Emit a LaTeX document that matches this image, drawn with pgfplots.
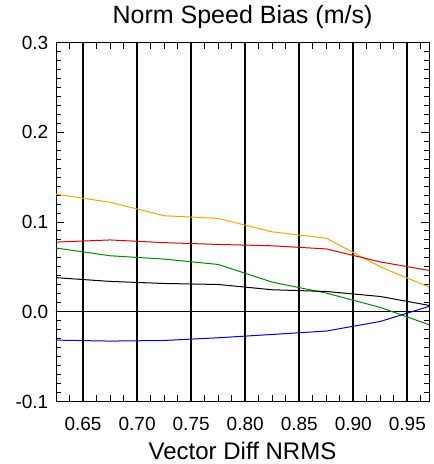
\documentclass[border=0pt]{standalone}
\usepackage{pgfplots}
\pgfplotsset{compat=1.18}
\usepackage{fontspec}
\setmainfont{Liberation Sans}
\definecolor{cOrange}{RGB}{255,165,0}
\definecolor{cRed}{RGB}{220,0,0}
\definecolor{cGreen}{RGB}{0,140,0}
\definecolor{cBlue}{RGB}{0,0,220}
\begin{document}
\begin{tikzpicture}
\useasboundingbox (-56pt,-62.5pt) rectangle (378pt,401.5pt);
\begin{axis}[
  scale only axis,
  width=373pt, height=359pt,
  xmin=0.625, xmax=0.97,
  ymin=-0.1, ymax=0.3,
  xtick={0.65,0.70,0.75,0.80,0.85,0.90,0.95},
  ytick={-0.1,0,0.1,0.2,0.3},
  major tick length=8pt,
  tick style={black, line width=1pt},
  unbounded coords=jump,
  /pgf/number format/assume math mode=true,
  xticklabel style={/pgf/number format/fixed, /pgf/number format/fixed zerofill, /pgf/number format/precision=2, font=\fontsize{19}{19}\selectfont, anchor=base, yshift=-28.5pt, inner sep=0pt},
  yticklabel style={/pgf/number format/fixed, /pgf/number format/fixed zerofill, /pgf/number format/precision=1, font=\fontsize{19}{19}\selectfont, anchor=east, inner sep=0pt, xshift=-7.5pt},
  title={Norm Speed Bias (m/s)},
  title style={font=\fontsize{25}{25}\selectfont, at={(0.5,1)}, anchor=base, yshift=13.5pt, inner sep=0pt},
  xlabel={Vector Diff NRMS},
  xlabel style={font=\fontsize{24}{24}\selectfont, at={(0.5,0)}, anchor=base, yshift=-58pt, inner sep=0pt},
]
% vertical major lines
\addplot[black, line width=1.8pt] coordinates {
(0.65,-0.1) (0.65,0.3) (0.65,nan)
(0.70,-0.1) (0.70,0.3) (0.70,nan)
(0.75,-0.1) (0.75,0.3) (0.75,nan)
(0.80,-0.1) (0.80,0.3) (0.80,nan)
(0.85,-0.1) (0.85,0.3) (0.85,nan)
(0.90,-0.1) (0.90,0.3) (0.90,nan)
(0.95,-0.1) (0.95,0.3)};
% y tick marks, left and right
\addplot[black, line width=1pt] coordinates {
(0.625,-0.09)(0.6296,-0.09)(0.625,nan) (0.625,-0.08)(0.6296,-0.08)(0.625,nan)
(0.625,-0.07)(0.6296,-0.07)(0.625,nan) (0.625,-0.06)(0.6296,-0.06)(0.625,nan)
(0.625,-0.05)(0.6296,-0.05)(0.625,nan) (0.625,-0.04)(0.6296,-0.04)(0.625,nan)
(0.625,-0.03)(0.6296,-0.03)(0.625,nan) (0.625,-0.02)(0.6296,-0.02)(0.625,nan)
(0.625,-0.01)(0.6296,-0.01)(0.625,nan) (0.625,0)(0.6324,0)(0.625,nan)
(0.625,0.01)(0.6296,0.01)(0.625,nan) (0.625,0.02)(0.6296,0.02)(0.625,nan)
(0.625,0.03)(0.6296,0.03)(0.625,nan) (0.625,0.04)(0.6296,0.04)(0.625,nan)
(0.625,0.05)(0.6296,0.05)(0.625,nan) (0.625,0.06)(0.6296,0.06)(0.625,nan)
(0.625,0.07)(0.6296,0.07)(0.625,nan) (0.625,0.08)(0.6296,0.08)(0.625,nan)
(0.625,0.09)(0.6296,0.09)(0.625,nan) (0.625,0.1)(0.6324,0.1)(0.625,nan)
(0.625,0.11)(0.6296,0.11)(0.625,nan) (0.625,0.12)(0.6296,0.12)(0.625,nan)
(0.625,0.13)(0.6296,0.13)(0.625,nan) (0.625,0.14)(0.6296,0.14)(0.625,nan)
(0.625,0.15)(0.6296,0.15)(0.625,nan) (0.625,0.16)(0.6296,0.16)(0.625,nan)
(0.625,0.17)(0.6296,0.17)(0.625,nan) (0.625,0.18)(0.6296,0.18)(0.625,nan)
(0.625,0.19)(0.6296,0.19)(0.625,nan) (0.625,0.2)(0.6324,0.2)(0.625,nan)
(0.625,0.21)(0.6296,0.21)(0.625,nan) (0.625,0.22)(0.6296,0.22)(0.625,nan)
(0.625,0.23)(0.6296,0.23)(0.625,nan) (0.625,0.24)(0.6296,0.24)(0.625,nan)
(0.625,0.25)(0.6296,0.25)(0.625,nan) (0.625,0.26)(0.6296,0.26)(0.625,nan)
(0.625,0.27)(0.6296,0.27)(0.625,nan) (0.625,0.28)(0.6296,0.28)(0.625,nan)
(0.625,0.29)(0.6296,0.29)(0.625,nan)
(0.97,-0.09)(0.9654,-0.09)(0.97,nan) (0.97,-0.08)(0.9654,-0.08)(0.97,nan)
(0.97,-0.07)(0.9654,-0.07)(0.97,nan) (0.97,-0.06)(0.9654,-0.06)(0.97,nan)
(0.97,-0.05)(0.9654,-0.05)(0.97,nan) (0.97,-0.04)(0.9654,-0.04)(0.97,nan)
(0.97,-0.03)(0.9654,-0.03)(0.97,nan) (0.97,-0.02)(0.9654,-0.02)(0.97,nan)
(0.97,-0.01)(0.9654,-0.01)(0.97,nan) (0.97,0)(0.9626,0)(0.97,nan)
(0.97,0.01)(0.9654,0.01)(0.97,nan) (0.97,0.02)(0.9654,0.02)(0.97,nan)
(0.97,0.03)(0.9654,0.03)(0.97,nan) (0.97,0.04)(0.9654,0.04)(0.97,nan)
(0.97,0.05)(0.9654,0.05)(0.97,nan) (0.97,0.06)(0.9654,0.06)(0.97,nan)
(0.97,0.07)(0.9654,0.07)(0.97,nan) (0.97,0.08)(0.9654,0.08)(0.97,nan)
(0.97,0.09)(0.9654,0.09)(0.97,nan) (0.97,0.1)(0.9626,0.1)(0.97,nan)
(0.97,0.11)(0.9654,0.11)(0.97,nan) (0.97,0.12)(0.9654,0.12)(0.97,nan)
(0.97,0.13)(0.9654,0.13)(0.97,nan) (0.97,0.14)(0.9654,0.14)(0.97,nan)
(0.97,0.15)(0.9654,0.15)(0.97,nan) (0.97,0.16)(0.9654,0.16)(0.97,nan)
(0.97,0.17)(0.9654,0.17)(0.97,nan) (0.97,0.18)(0.9654,0.18)(0.97,nan)
(0.97,0.19)(0.9654,0.19)(0.97,nan) (0.97,0.2)(0.9626,0.2)(0.97,nan)
(0.97,0.21)(0.9654,0.21)(0.97,nan) (0.97,0.22)(0.9654,0.22)(0.97,nan)
(0.97,0.23)(0.9654,0.23)(0.97,nan) (0.97,0.24)(0.9654,0.24)(0.97,nan)
(0.97,0.25)(0.9654,0.25)(0.97,nan) (0.97,0.26)(0.9654,0.26)(0.97,nan)
(0.97,0.27)(0.9654,0.27)(0.97,nan) (0.97,0.28)(0.9654,0.28)(0.97,nan)
(0.97,0.29)(0.9654,0.29)
};
% x minor tick marks, bottom and top
\addplot[black, line width=1pt] coordinates {
(0.6375,-0.1)(0.6375,-0.0933)(0.6375,nan) (0.6625,-0.1)(0.6625,-0.0933)(0.6625,nan)
(0.675,-0.1)(0.675,-0.0933)(0.675,nan) (0.6875,-0.1)(0.6875,-0.0933)(0.6875,nan)
(0.7125,-0.1)(0.7125,-0.0933)(0.7125,nan) (0.725,-0.1)(0.725,-0.0933)(0.725,nan)
(0.7375,-0.1)(0.7375,-0.0933)(0.7375,nan) (0.7625,-0.1)(0.7625,-0.0933)(0.7625,nan)
(0.775,-0.1)(0.775,-0.0933)(0.775,nan) (0.7875,-0.1)(0.7875,-0.0933)(0.7875,nan)
(0.8125,-0.1)(0.8125,-0.0933)(0.8125,nan) (0.825,-0.1)(0.825,-0.0933)(0.825,nan)
(0.8375,-0.1)(0.8375,-0.0933)(0.8375,nan) (0.8625,-0.1)(0.8625,-0.0933)(0.8625,nan)
(0.875,-0.1)(0.875,-0.0933)(0.875,nan) (0.8875,-0.1)(0.8875,-0.0933)(0.8875,nan)
(0.9125,-0.1)(0.9125,-0.0933)(0.9125,nan) (0.925,-0.1)(0.925,-0.0933)(0.925,nan)
(0.9375,-0.1)(0.9375,-0.0933)(0.9375,nan) (0.9625,-0.1)(0.9625,-0.0933)(0.9625,nan)
(0.6375,0.3)(0.6375,0.2933)(0.6375,nan) (0.6625,0.3)(0.6625,0.2933)(0.6625,nan)
(0.675,0.3)(0.675,0.2933)(0.675,nan) (0.6875,0.3)(0.6875,0.2933)(0.6875,nan)
(0.7125,0.3)(0.7125,0.2933)(0.7125,nan) (0.725,0.3)(0.725,0.2933)(0.725,nan)
(0.7375,0.3)(0.7375,0.2933)(0.7375,nan) (0.7625,0.3)(0.7625,0.2933)(0.7625,nan)
(0.775,0.3)(0.775,0.2933)(0.775,nan) (0.7875,0.3)(0.7875,0.2933)(0.7875,nan)
(0.8125,0.3)(0.8125,0.2933)(0.8125,nan) (0.825,0.3)(0.825,0.2933)(0.825,nan)
(0.8375,0.3)(0.8375,0.2933)(0.8375,nan) (0.8625,0.3)(0.8625,0.2933)(0.8625,nan)
(0.875,0.3)(0.875,0.2933)(0.875,nan) (0.8875,0.3)(0.8875,0.2933)(0.8875,nan)
(0.9125,0.3)(0.9125,0.2933)(0.9125,nan) (0.925,0.3)(0.925,0.2933)(0.925,nan)
(0.9375,0.3)(0.9375,0.2933)(0.9375,nan) (0.9625,0.3)(0.9625,0.2933)
};
\addplot[black, line width=1pt] coordinates {(0.6,0) (1.0,0)};
\addplot[cOrange, line width=1pt] coordinates {
(0.625,0.131) (0.675,0.122) (0.725,0.107) (0.775,0.104) (0.825,0.089) (0.875,0.082) (0.925,0.050) (0.975,0.025)};
\addplot[cRed, line width=1pt] coordinates {
(0.625,0.0776) (0.675,0.080) (0.725,0.077) (0.775,0.075) (0.825,0.0735) (0.875,0.070) (0.925,0.0555) (0.975,0.045)};
\addplot[cGreen, line width=1pt] coordinates {
(0.625,0.071) (0.675,0.0624) (0.725,0.0587) (0.775,0.0527) (0.825,0.033) (0.875,0.0208) (0.925,0.0048) (0.975,-0.0165)};
\addplot[black, line width=1pt] coordinates {
(0.625,0.038) (0.675,0.0338) (0.725,0.0315) (0.775,0.0304) (0.825,0.0245) (0.875,0.0226) (0.925,0.017) (0.975,0.006)};
\addplot[cBlue, line width=1pt] coordinates {
(0.625,-0.0316) (0.675,-0.0327) (0.725,-0.032) (0.775,-0.029) (0.825,-0.0253) (0.875,-0.0215) (0.925,-0.0108) (0.975,0.0078)};
\end{axis}
\end{tikzpicture}
\end{document}
